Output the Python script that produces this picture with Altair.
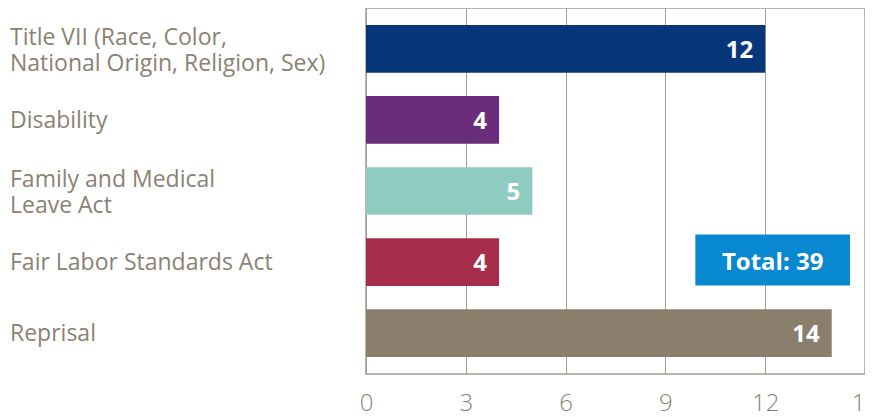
import altair as alt
import pandas as pd

categories = [
    "Title VII (Race, Color,\nNational Origin, Religion, Sex)",
    "Disability",
    "Family and Medical\nLeave Act",
    "Fair Labor Standards Act",
    "Reprisal",
]
values = [12, 4, 5, 4, 14]
bar_colors = ["#08367A", "#6A2D7B", "#8ECBC0", "#A62E4A", "#8A7F6D"]
tick_values = [0, 3, 6, 9, 12, 15]

total_row = "Fair Labor Standards Act"
total_start = 9.9
total_end = 14.55
total_text = f"Total: {sum(values)}"

GRID = "#A39E93"
LABEL = "#8A8273"
FONT = "Open Sans"

df = pd.DataFrame({"cat": categories, "value": values})
tot = pd.DataFrame({"cat": [total_row], "x0": [total_start], "x1": [total_end],
                    "xm": [(total_start + total_end) / 2], "label": [total_text]})

yenc = alt.Y("cat:N", sort=categories,
             scale=alt.Scale(paddingInner=0.33, paddingOuter=0.24), axis=None)

base = alt.Chart(df)

bars = base.mark_bar().encode(
    x=alt.X("value:Q", scale=alt.Scale(domain=[0, 15], nice=False),
            axis=alt.Axis(values=tick_values, grid=True, gridColor=GRID, gridWidth=1,
                          gridOpacity=1, domain=False, ticks=False, labelFontSize=24,
                          labelColor=LABEL, labelFont=FONT, labelFontWeight=300,
                          labelPadding=17, title=None, labelFlush=False)),
    y=yenc,
    color=alt.Color("cat:N", scale=alt.Scale(domain=categories, range=bar_colors), legend=None),
)

label_props = dict(align="left", baseline="middle", fontSize=23, font=FONT,
                   color=LABEL, lineBreak="\n", lineHeight=26)

cat_labels_one = base.transform_filter("indexof(datum.cat, '\\n') < 0").mark_text(
    dy=1, **label_props).encode(x=alt.value(-356), y=yenc, text="cat:N")

cat_labels_two = base.transform_filter("indexof(datum.cat, '\\n') >= 0").mark_text(
    dy=-11, **label_props).encode(x=alt.value(-356), y=yenc, text="cat:N")

val_labels = base.mark_text(align="right", baseline="middle", dx=-12, dy=2, fontSize=24,
                            font=FONT, fontWeight="bold", color="white").encode(
    x="value:Q", y=yenc, text="value:Q")

tot_box = alt.Chart(tot).mark_bar(color="#0788D0", size=51, yOffset=-2).encode(
    x="x0:Q", x2="x1:Q", y=yenc)

tot_text = alt.Chart(tot).mark_text(align="center", baseline="middle", fontSize=24, font=FONT,
                                    fontWeight="bold", color="white", dy=1).encode(
    x="xm:Q", y=yenc, text="label:N")

chart = alt.layer(bars, cat_labels_one, cat_labels_two, val_labels, tot_box, tot_text).properties(
    width=499, height=366,
    autosize=alt.AutoSizeParams(type="none"),
    padding={"left": 358, "top": 0, "right": 0, "bottom": 43},
).configure_view(stroke=GRID, strokeWidth=1.5)

chart.save("out.html", embed_options={"renderer": "svg", "actions": False})
